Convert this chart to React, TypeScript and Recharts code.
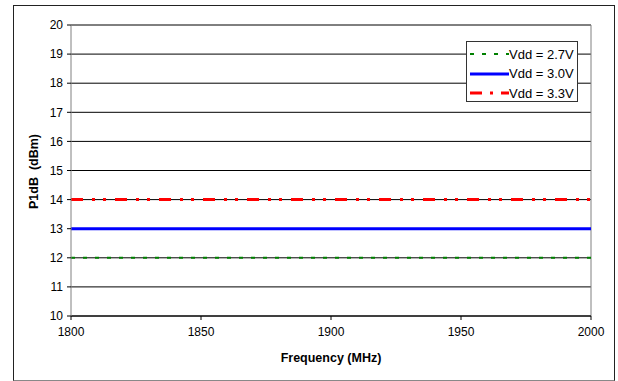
import { LineChart, Line, XAxis, YAxis, CartesianGrid, Legend, ReferenceLine } from 'recharts';

const freqs = [1800, 1850, 1900, 1950, 2000];
const vdd27 = [12, 12, 12, 12, 12];
const vdd30 = [13, 13, 13, 13, 13];
const vdd33 = [14, 14, 14, 14, 14];
const yTicks = [10, 11, 12, 13, 14, 15, 16, 17, 18, 19, 20];
const xTicks = [1800, 1850, 1900, 1950, 2000];

const series = [
  { key: 'v27', name: 'Vdd = 2.7V', color: '#008000', width: 2, dash: '4 8' },
  { key: 'v30', name: 'Vdd = 3.0V', color: '#0000FF', width: 3, dash: undefined },
  { key: 'v33', name: 'Vdd = 3.3V', color: '#FF0000', width: 3, dash: '12 9 3 8 3 9' },
];

const data = freqs.map((f, i) => ({ freq: f, v27: vdd27[i], v30: vdd30[i], v33: vdd33[i] }));

const font = 'Arial, "Liberation Sans", sans-serif';

const LegendBox = () => (
  <div
    style={{
      position: 'relative',
      width: 110,
      height: 59,
      border: '1px solid #333',
      background: '#fff',
      fontFamily: font,
      fontSize: 13,
      color: '#000',
      textAlign: 'left',
    }}
  >
    {series.map((s, i) => (
      <div key={s.key} style={{ position: 'absolute', left: 3, top: 3 + i * 19.5, height: 18, display: 'flex', alignItems: 'center' }}>
        <svg width={39} height={6} style={{ display: 'block' }}>
          <line x1={0} y1={3} x2={39} y2={3} stroke={s.color} strokeWidth={s.width} strokeDasharray={s.key === 'v33' ? '12 8 3 8' : s.dash} />
        </svg>
        <span style={{ whiteSpace: 'nowrap' }}>{s.name}</span>
      </div>
    ))}
  </div>
);

const YTitle = (props: any) => {
  const vb = props.viewBox;
  const cx = 34;
  const cy = vb.y + vb.height / 2 + 1;
  return (
    <text x={cx} y={cy} transform={`rotate(-90 ${cx} ${cy})`} textAnchor="middle" dominantBaseline="central" fontFamily={font} fontSize={12.5} fontWeight="bold" fill="#000" style={{ whiteSpace: 'pre' }}>
      {'P1dB\u00a0\u00a0(dBm)'}
    </text>
  );
};

export default function App() {
  return (
    <div style={{ position: 'absolute', left: 0, top: 0, width: 618, height: 381, background: '#fff' }}>
      <div style={{ position: 'absolute', left: 13, top: 5, width: 600, height: 374, border: '1px solid #222', borderBottomColor: '#888' }} />
      <LineChart width={618} height={381} data={data} margin={{ top: 25, right: 27, left: 13, bottom: 15 }}>
        <CartesianGrid horizontal vertical={false} stroke="#000" strokeWidth={1} />
        <XAxis
          dataKey="freq"
          type="number"
          domain={[1800, 2000]}
          ticks={xTicks}
          height={50}
          tickSize={4}
          tickMargin={7}
          axisLine={{ stroke: '#000' }}
          tickLine={{ stroke: '#000' }}
          tick={{ fill: '#000', fontSize: 12, fontFamily: font }}
          label={{ value: 'Frequency (MHz)', position: 'insideBottom', offset: 4, fill: '#000', fontSize: 12.5, fontWeight: 'bold', fontFamily: font }}
        />
        <YAxis
          type="number"
          domain={[10, 20]}
          ticks={yTicks}
          width={58}
          tickSize={4}
          tickMargin={4}
          interval={0}
          axisLine={{ stroke: '#808080' }}
          tickLine={{ stroke: '#000' }}
          tick={{ fill: '#000', fontSize: 12, fontFamily: font }}
          label={<YTitle />}
        />
        <ReferenceLine x={2000} stroke="#808080" />
        <ReferenceLine y={20} stroke="#808080" />
        <Legend
          content={<LegendBox />}
          layout="horizontal"
          verticalAlign="middle"
          align="center"
          wrapperStyle={{ position: 'absolute', left: 466, top: 41, width: 112, height: 61 }}
        />
        {series.map((s) => (
          <Line
            key={s.key}
            dataKey={s.key}
            name={s.name}
            type="linear"
            stroke={s.color}
            strokeWidth={s.width}
            strokeDasharray={s.dash}
            dot={false}
            activeDot={false}
            isAnimationActive={false}
          />
        ))}
      </LineChart>
    </div>
  );
}
